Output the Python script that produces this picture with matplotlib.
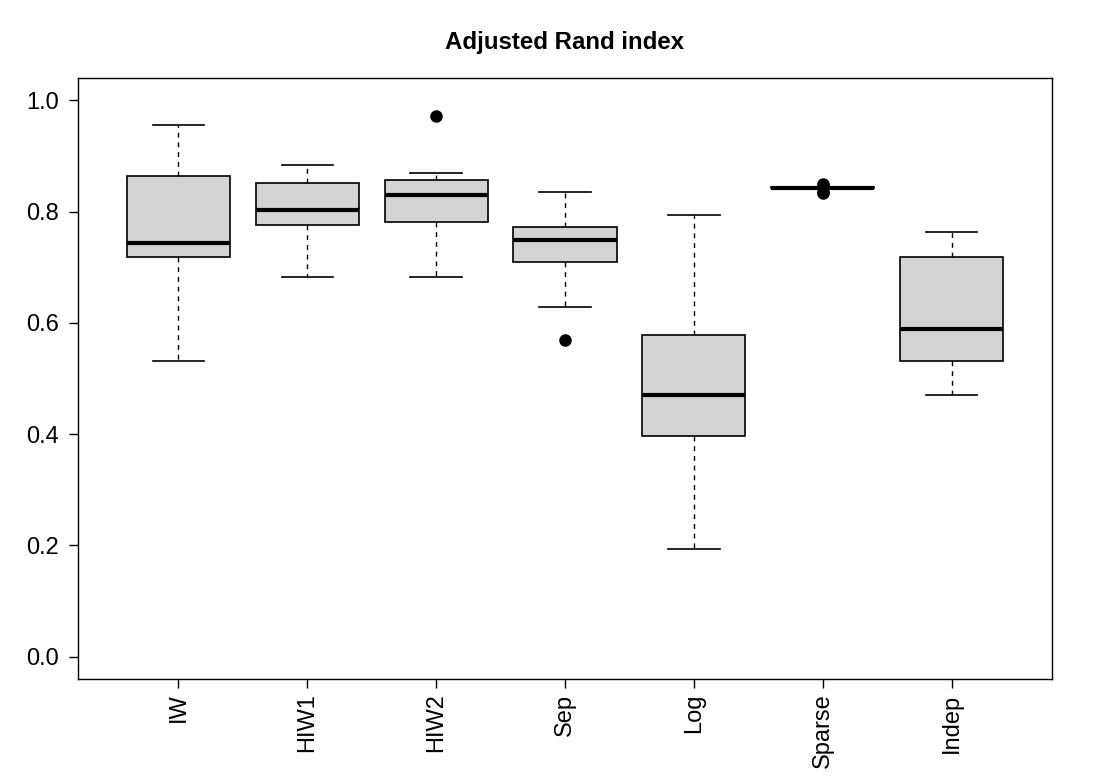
import matplotlib
matplotlib.use("Agg")
import matplotlib.pyplot as plt

plt.rcParams['font.family'] = ['Liberation Sans', 'DejaVu Sans']

methods = ["IW", "HIW1", "HIW2", "Sep", "Log", "Sparse", "Indep"]
whislo = [0.532, 0.683, 0.683, 0.628, 0.194, 0.840, 0.470]
q1 = [0.719, 0.776, 0.782, 0.710, 0.397, 0.842, 0.531]
med = [0.744, 0.802, 0.829, 0.748, 0.471, 0.843, 0.589]
q3 = [0.864, 0.852, 0.856, 0.773, 0.579, 0.844, 0.719]
whishi = [0.956, 0.883, 0.870, 0.836, 0.793, 0.845, 0.764]
outliers = [[], [], [0.971], [0.570], [], [0.834, 0.836, 0.847, 0.849], []]

stats = []
for i, name in enumerate(methods):
    stats.append({'label': name, 'whislo': whislo[i], 'q1': q1[i], 'med': med[i],
                  'q3': q3[i], 'whishi': whishi[i], 'fliers': outliers[i]})

fig = plt.figure(figsize=(10.93, 7.77), dpi=100)
ax = fig.add_axes([78/1093, 1 - 679/777, (1052 - 78)/1093, (679 - 78)/777])

pos = list(range(1, len(methods) + 1))
ax.bxp(stats, positions=pos, widths=0.8, capwidths=0.4, patch_artist=True,
       boxprops=dict(facecolor='#d3d3d3', edgecolor='black', linewidth=1.2),
       medianprops=dict(color='black', linewidth=3, solid_capstyle='butt'),
       whiskerprops=dict(color='black', linewidth=1, linestyle=(0, (3.5, 3.5))),
       capprops=dict(color='black', linewidth=1.2),
       flierprops=dict(marker='o', markerfacecolor='black', markeredgecolor='black',
                       markersize=8, linestyle='none'))

ax.set_xlim(0.22, 7.78)
ax.set_ylim(-0.04, 1.04)
ax.set_xticks(pos)
ax.set_xticklabels(methods, rotation=90, fontsize=17)
ax.set_yticks([0.0, 0.2, 0.4, 0.6, 0.8, 1.0])
ax.set_yticklabels(['0.0', '0.2', '0.4', '0.6', '0.8', '1.0'], fontsize=17)
ax.tick_params(axis='y', direction='out', length=6.5, width=1, pad=7.5)
ax.tick_params(axis='x', direction='out', length=6.5, width=1, pad=4)
for s in ax.spines.values():
    s.set_linewidth(1)

# title centred over the plot region, like R's main=
fig.text((78 + 1052) / 2 / 1093, 1 - 43/777, 'Adjusted Rand index',
         ha='center', va='center', fontsize=17.3, fontweight='bold')

fig.savefig('out.png', dpi=100)
